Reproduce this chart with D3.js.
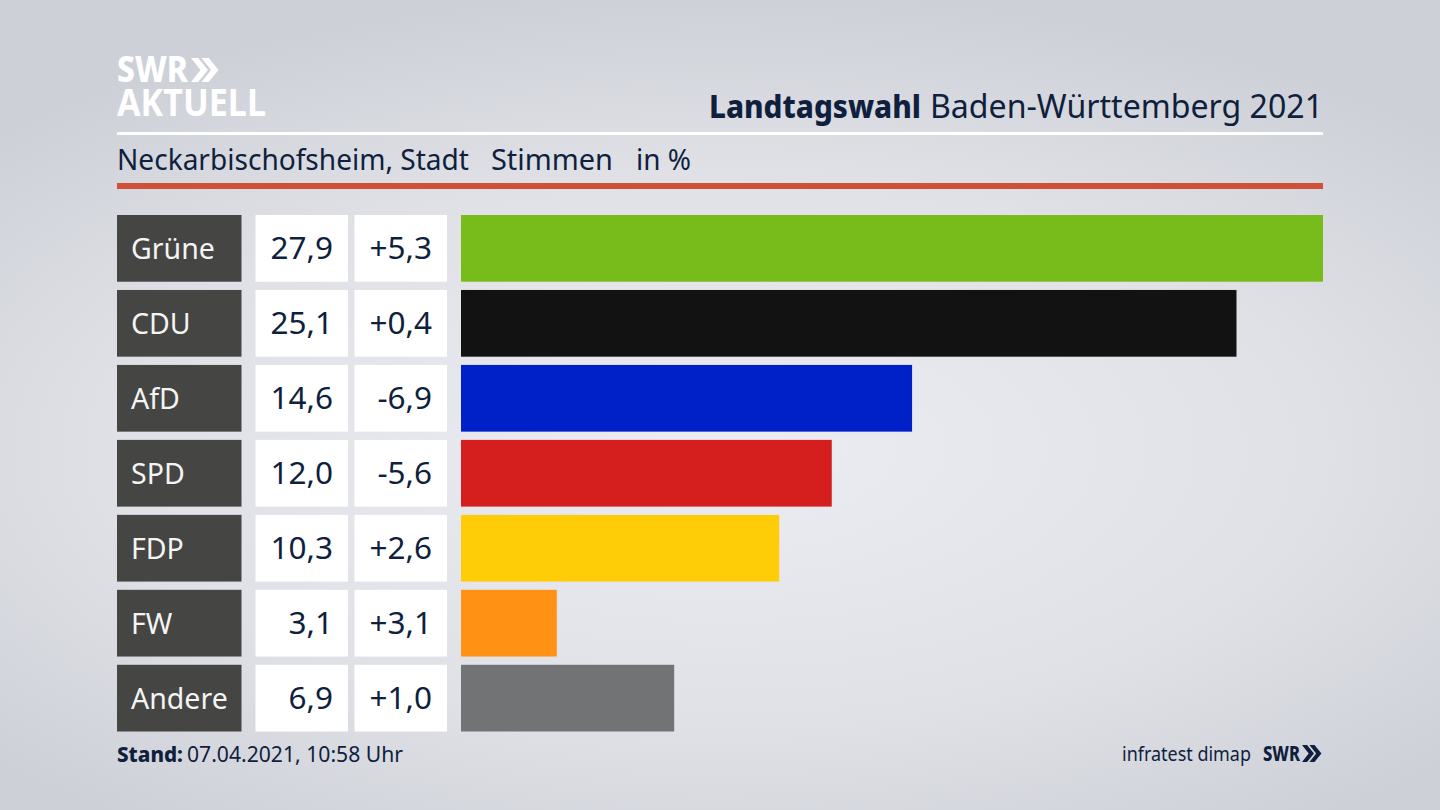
<!DOCTYPE html>
<html lang="de"><head><meta charset="utf-8">
<script src="https://cdn.jsdelivr.net/npm/d3@7"></script>
<style>html,body{margin:0;padding:0;background:#d5d8de;overflow:hidden}svg{display:block}text{font-family:"Noto Sans",sans-serif}</style>
</head><body><svg id="c" width="1440" height="810"></svg>
<script>
const parties=["Grüne","CDU","AfD","SPD","FDP","FW","Andere"];
const shares=[27.9,25.1,14.6,12.0,10.3,3.1,6.9];
const shareLabels=["27,9","25,1","14,6","12,0","10,3","3,1","6,9"];
const diffLabels=["+5,3","+0,4","-6,9","-5,6","+2,6","+3,1","+1,0"];
const colors=["#78bc1b","#121212","#0021c8","#d51f1f","#ffcc08","#ff9115","#727374"];
const navy="#0f1f3d";
const svg=d3.select("#c");
const defs=svg.append("defs");
const g=defs.append("radialGradient").attr("id","bg").attr("gradientUnits","userSpaceOnUse")
 .attr("cx",720).attr("cy",450).attr("r",1000).attr("gradientTransform","translate(720 450) scale(1 .46) translate(-720 -450)");
g.append("stop").attr("offset",0).attr("stop-color","#ebedf2");
g.append("stop").attr("offset",.6).attr("stop-color","#dfe1e7");
g.append("stop").attr("offset",1).attr("stop-color","#cdd0d6");
svg.append("rect").attr("width",1440).attr("height",810).attr("fill","url(#bg)");

const x=d3.scaleLinear().domain([0,27.9]).range([461,1323]);
const y=d3.scaleBand().domain(parties).range([215,731.5]).paddingInner(.11);
const rows=svg.selectAll("g.row").data(parties).join("g").attr("class","row");
rows.append("rect").attr("x",117).attr("width",124.5).attr("y",d=>y(d)).attr("height",y.bandwidth()).attr("fill","#454543");
rows.append("rect").attr("x",255.5).attr("width",92.5).attr("y",d=>y(d)).attr("height",y.bandwidth()).attr("fill","#fff");
rows.append("rect").attr("x",354.5).attr("width",92.5).attr("y",d=>y(d)).attr("height",y.bandwidth()).attr("fill","#fff");
rows.append("rect").attr("x",x(0)).attr("y",d=>y(d)).attr("height",y.bandwidth())
 .attr("width",(d,i)=>x(shares[i])-x(0)).attr("fill",(d,i)=>colors[i]);
const by=d=>y(d)+y.bandwidth()/2+10.5;
rows.append("text").attr("x",131).attr("y",by).attr("font-size",28.5).attr("fill","#f4f4f4").text(d=>d);
rows.append("text").attr("x",333).attr("y",by).attr("text-anchor","end").attr("font-size",31.5).attr("fill",navy).text((d,i)=>shareLabels[i]);
rows.append("text").attr("x",432).attr("y",by).attr("text-anchor","end").attr("font-size",31.5).attr("fill",navy).text((d,i)=>diffLabels[i]);

svg.append("rect").attr("x",117).attr("y",132).attr("width",1206).attr("height",3).attr("fill","#fff");
svg.append("rect").attr("x",117).attr("y",183).attr("width",1206).attr("height",6).attr("fill","#cd5037");

function fit(s,px,py,len,size,weight,fill){
 return svg.append("text").attr("x",px).attr("y",py).attr("font-size",size).attr("font-weight",weight).attr("fill",fill)
  .attr("textLength",len).attr("lengthAdjust","spacingAndGlyphs").text(s);
}
fit("Landtagswahl",709,118,212,32,800,navy);
fit("Baden-Württemberg 2021",930,118,393,32,400,navy);
fit("Neckarbischofsheim, Stadt",117,170,352,29,400,navy);
fit("Stimmen",491,170,122,29,400,navy);
fit("in %",636,170,55,29,400,navy);
fit("Stand:",117,762,66,21.5,800,navy);
fit("07.04.2021, 10:58 Uhr",187,762,216,21.5,400,navy);
fit("infratest dimap",1122,761,129,19.5,400,navy);

function chevrons(px,py,h,w,fill){
 const a=d3.path();
 [0,1].forEach(k=>{const o=px+k*w*.62;
  a.moveTo(o,py);a.lineTo(o+w*.42,py);a.lineTo(o+w,py+h/2);a.lineTo(o+w*.42,py+h);a.lineTo(o,py+h);a.lineTo(o+w*.56,py+h/2);a.closePath();});
 svg.append("path").attr("d",a.toString()).attr("fill",fill);
}
const logo=svg.append("text").attr("fill","#fff");
logo.append("tspan").attr("x",117).attr("y",82).attr("font-size",36).attr("font-weight",800)
 .attr("textLength",71).attr("lengthAdjust","spacingAndGlyphs").text("SWR");
logo.append("tspan").attr("x",117).attr("y",116).attr("font-size",38).attr("font-weight",700)
 .attr("textLength",149).attr("lengthAdjust","spacingAndGlyphs").text("AKTUELL");
chevrons(191,58,24,17,"#fff");
fit("SWR",1263,761,37,21,800,navy);
chevrons(1302,745,17,12,navy);
</script></body></html>
